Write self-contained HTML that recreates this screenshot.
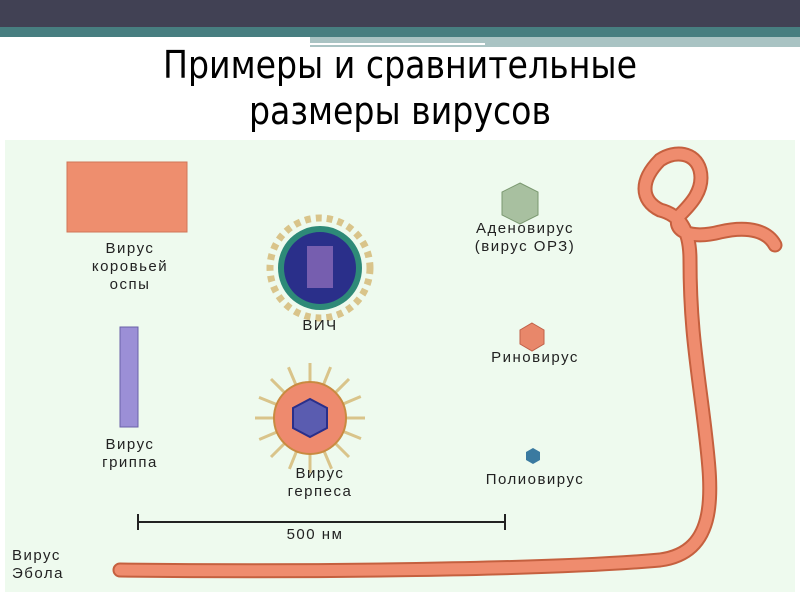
<!DOCTYPE html>
<html><head><meta charset="utf-8"><style>
body{margin:0;width:800px;height:600px;background:#fff;overflow:hidden;position:relative;font-family:"Liberation Sans","DejaVu Sans",sans-serif}
.t{position:absolute;color:#222;font-size:15px;letter-spacing:1.5px;text-align:center;line-height:18px}
</style></head><body>
<div style="position:absolute;left:0;top:0;width:800px;height:27px;background:#414154"></div>
<div style="position:absolute;left:0;top:27px;width:800px;height:10px;background:#477e80"></div>
<div style="position:absolute;left:310px;top:37px;width:490px;height:10px;background:#a9c3c3"></div>
<div style="position:absolute;left:310px;top:43px;width:175px;height:2px;background:#fff"></div>
<div style="position:absolute;left:0;top:42px;width:800px;text-align:center;font-size:38px;line-height:46px;color:#000;font-family:'DejaVu Sans Condensed','Liberation Sans Narrow',sans-serif;transform:scaleX(0.97)">Примеры и сравнительные<br>размеры вирусов</div>
<div style="position:absolute;left:5px;top:140px;width:790px;height:452px;background:#eefaee"></div>
<svg width="800" height="600" style="position:absolute;left:0;top:0">
<rect x="67" y="162" width="120" height="70" fill="#ee8e6e" stroke="#d07558"/>
<rect x="120" y="327" width="18" height="100" fill="#9b8fd6" stroke="#6a60a8"/>
<g transform="translate(320,268)">
<circle r="50" fill="none" stroke="#d9c48a" stroke-width="7" stroke-dasharray="6 5"/>
<circle r="42" fill="#2e8a78"/><circle r="36" fill="#2a2f8a"/>
<rect x="-13" y="-22" width="26" height="42" fill="#8a6ab8" opacity=".8"/>
</g>
<g transform="translate(310,418)" stroke="#d9c48a" stroke-width="3">
<line x1="0" y1="-55" x2="0" y2="55"/><line x1="-55" y1="0" x2="55" y2="0"/><line x1="-39" y1="-39" x2="39" y2="39"/><line x1="-39" y1="39" x2="39" y2="-39"/>
<g transform="rotate(22)"><line x1="0" y1="-55" x2="0" y2="55"/><line x1="-55" y1="0" x2="55" y2="0"/><line x1="-39" y1="-39" x2="39" y2="39"/><line x1="-39" y1="39" x2="39" y2="-39"/></g>
<circle r="36" fill="#ee8a6e" stroke="#c98a40" stroke-width="2"/>
<polygon points="-17,-10 0,-19 17,-10 17,10 0,19 -17,10" fill="#5a5cb0" stroke="#2a2f8a" stroke-width="2"/>
</g>
<polygon points="520,183 538,192 538,215 520,224 502,215 502,192" fill="#a8c0a0" stroke="#7a9870"/>
<polygon points="532,323 544,330 544,344 532,351 520,344 520,330" fill="#e8876a" stroke="#c06048"/>
<polygon points="533,448 540,452 540,460 533,464 526,460 526,452" fill="#3a7aa0"/>
<path d="M120,570 C300,572 550,570 660,560 C720,552 712,490 705,430 C698,370 690,330 690,260 C690,230 680,215 660,210 C640,200 640,180 660,160 C675,150 695,152 700,170 C705,190 690,205 680,215 C670,230 690,240 720,232 C750,225 768,232 775,245" fill="none" stroke="#c5603f" stroke-width="15" stroke-linecap="round"/>
<path d="M120,570 C300,572 550,570 660,560 C720,552 712,490 705,430 C698,370 690,330 690,260 C690,230 680,215 660,210 C640,200 640,180 660,160 C675,150 695,152 700,170 C705,190 690,205 680,215 C670,230 690,240 720,232 C750,225 768,232 775,245" fill="none" stroke="#ef8c6e" stroke-width="11" stroke-linecap="round"/>
<g stroke="#222" stroke-width="2"><line x1="138" y1="522" x2="505" y2="522"/><line x1="138" y1="514" x2="138" y2="530"/><line x1="505" y1="514" x2="505" y2="530"/></g>
</svg>
<div class="t" style="left:80px;top:240px;width:100px">Вирус<br>коровьей<br>оспы</div>
<div class="t" style="left:80px;top:436px;width:100px">Вирус<br>гриппа</div>
<div class="t" style="left:270px;top:317px;width:100px">ВИЧ</div>
<div class="t" style="left:260px;top:465px;width:120px">Вирус<br>герпеса</div>
<div class="t" style="left:440px;top:220px;width:170px">Аденовирус<br>(вирус ОРЗ)</div>
<div class="t" style="left:450px;top:349px;width:170px">Риновирус</div>
<div class="t" style="left:450px;top:471px;width:170px">Полиовирус</div>
<div class="t" style="left:265px;top:526px;width:100px">500 нм</div>
<div class="t" style="left:12px;top:547px;width:80px;text-align:left">Вирус<br>Эбола</div>
</body></html>
